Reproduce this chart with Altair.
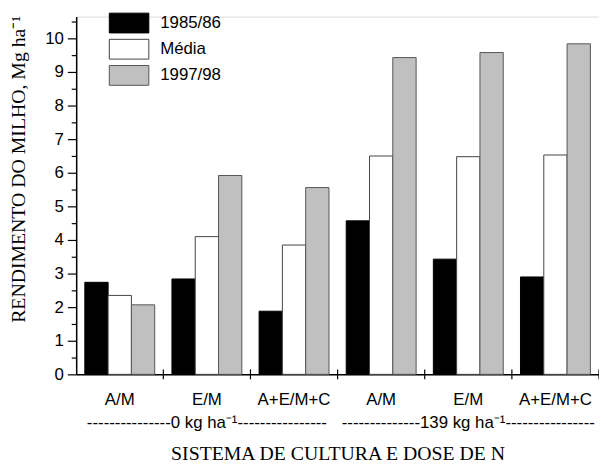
import altair as alt
import pandas as pd

groups = ["0|A/M", "0|E/M", "0|A+E/M+C", "139|A/M", "139|E/M", "139|A+E/M+C"]
series = ["1985/86", "Média", "1997/98"]
v8586 = [2.74, 2.84, 1.88, 4.57, 3.43, 2.90]
vmedia = [2.35, 4.10, 3.85, 6.50, 6.48, 6.53]
v9798 = [2.07, 5.92, 5.56, 9.43, 9.58, 9.84]
y_ticks = [0, 0.5, 1, 1.5, 2, 2.5, 3, 3.5, 4, 4.5, 5, 5.5, 6, 6.5, 7, 7.5, 8, 8.5, 9, 9.5, 10, 10.5]
dose_line_0 = "-" * 15 + "0 kg ha\u207b\u00b9" + "-" * 16
dose_line_139 = "-" * 14 + "139 kg ha\u207b\u00b9" + "-" * 16

rows = []
for g, a, b, c in zip(groups, v8586, vmedia, v9798):
    rows.append({"group": g, "series": series[0], "value": a})
    rows.append({"group": g, "series": series[1], "value": b})
    rows.append({"group": g, "series": series[2], "value": c})
df = pd.DataFrame(rows)

W, H = 529, 362
SANS = "Liberation Sans"
SERIF = "Liberation Serif"

xscale = alt.Scale(domain=groups, paddingInner=0, paddingOuter=0)
yscale = alt.Scale(domain=[0, 10.65], nice=False)

label_expr = (
    "datum.value == '0|E/M' ? ['E/M', '" + dose_line_0 + "'] : "
    "datum.value == '139|E/M' ? ['E/M', '" + dose_line_139 + "'] : "
    "split(datum.value, '|')[1]"
)

bars = alt.Chart(df).mark_bar(strokeWidth=1).encode(
    x=alt.X("group:N", scale=xscale, sort=groups,
            axis=alt.Axis(title="SISTEMA DE CULTURA E DOSE DE N", labelAngle=0,
                          ticks=False, labelExpr=label_expr, labelFont=SANS,
                          labelFontSize=17, labelColor="black", labelPadding=17,
                          labelLineHeight=24, labelLimit=600, labelOverlap=False,
                          domainColor="black", domainWidth=1.5,
                          titleFont=SERIF, titleFontSize=20, titleFontWeight="normal",
                          titleColor="black", titleBaseline="alphabetic", titleY=86)),
    xOffset=alt.XOffset("series:N", sort=series,
                        scale=alt.Scale(domain=series, paddingInner=0, paddingOuter=0.37)),
    y=alt.Y("value:Q", scale=yscale,
            axis=alt.Axis(title="RENDIMENTO DO MILHO, Mg ha\u207b\u00b9", values=y_ticks,
                          labelExpr="datum.value % 1 == 0 ? format(datum.value, 'd') : ''",
                          labelOverlap=False,
                          tickSize={"condition": {"test": "datum.value % 1 != 0", "value": 5},
                                    "value": 9},
                          tickColor="black", tickWidth=1.2,
                          labelFont=SANS, labelFontSize=17, labelColor="black",
                          labelPadding=4, domainColor="black", domainWidth=1.5,
                          grid=False, titleFont=SERIF, titleFontSize=20,
                          titleFontWeight="normal", titleColor="black",
                          titleX=-58, titleY=154, titleBaseline="middle")),
    fill=alt.Fill("series:N", sort=series,
                  scale=alt.Scale(domain=series, range=["#000000", "#ffffff", "#c0c0c0"]),
                  legend=alt.Legend(title=None, orient="none", legendX=43, legendY=-4,
                                    symbolType="M-2,-1H2V1H-2Z", symbolSize=400,
                                    symbolStrokeColor="#444444", symbolStrokeWidth=1,
                                    labelFont=SANS, labelFontSize=17, labelColor="black",
                                    labelOffset=21, rowPadding=1.5)),
    stroke=alt.Stroke("series:N", sort=series,
                      scale=alt.Scale(domain=series, range=["#000000", "#444444", "#555555"]),
                      legend=None),
)

xticks = alt.Chart(pd.DataFrame({"group": groups})).mark_rule(color="black", strokeWidth=1.2).encode(
    x=alt.X("group:N", scale=xscale, sort=groups, bandPosition=1),
    y=alt.value(H - 5),
    y2=alt.value(H + 5),
)

chart = alt.layer(bars, xticks).properties(
    width=W, height=H,
    autosize=alt.AutoSizeParams(type="none"),
    padding={"left": 69, "top": 6, "right": 0, "bottom": 89},
).configure_view(stroke=None).configure(background="white")

chart.save("out.html", embed_options={"renderer": "svg", "actions": False})
